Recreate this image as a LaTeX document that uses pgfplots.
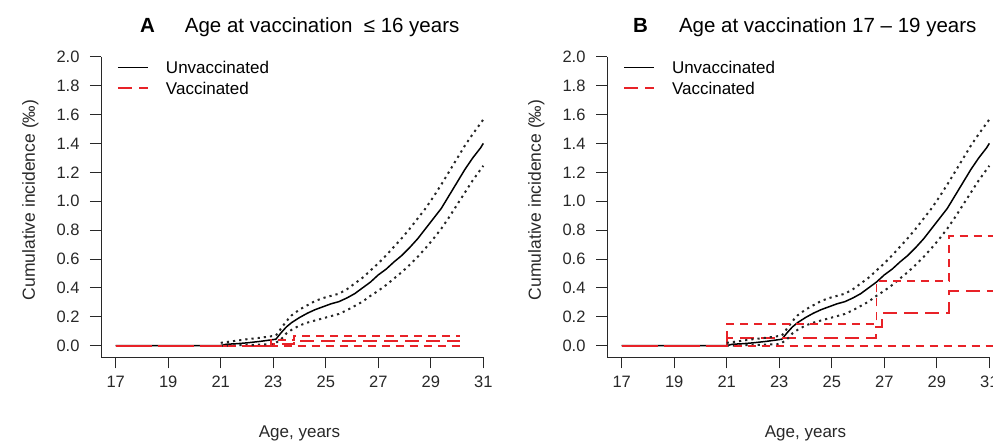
\documentclass[border=0pt]{standalone}
\usepackage{pgfplots}
\pgfplotsset{compat=1.18}
\usepackage{pgfplotstable}
\usepackage{fontspec}
\setmainfont{Liberation Sans}
\definecolor{vred}{RGB}{232,34,40}
\definecolor{axgray}{RGB}{40,40,40}

\pgfplotstableread{
x y
17.0 0.000
21.0 0.000
21.2 0.010
21.6 0.014
22.0 0.020
22.5 0.030
22.9 0.040
23.1 0.045
23.3 0.090
23.5 0.130
23.7 0.160
24.0 0.195
24.3 0.225
24.6 0.250
24.9 0.270
25.2 0.290
25.5 0.305
25.8 0.330
26.1 0.360
26.4 0.400
26.7 0.440
27.0 0.490
27.3 0.530
27.6 0.580
27.9 0.625
28.2 0.680
28.5 0.740
28.8 0.810
29.1 0.880
29.4 0.950
29.7 1.040
30.0 1.130
30.3 1.220
30.6 1.300
30.9 1.370
31.0 1.400
}\unvest

\pgfplotstableread{
x y
21.0 0.020
21.6 0.035
22.0 0.045
22.5 0.055
22.9 0.065
23.1 0.070
23.3 0.120
23.5 0.170
23.7 0.210
24.0 0.250
24.3 0.280
24.6 0.310
24.9 0.330
25.2 0.345
25.5 0.360
25.8 0.390
26.1 0.430
26.4 0.470
26.7 0.520
27.0 0.570
27.3 0.625
27.6 0.685
27.9 0.745
28.2 0.810
28.5 0.880
28.8 0.950
29.1 1.030
29.4 1.115
29.7 1.205
30.0 1.295
30.3 1.385
30.6 1.465
30.9 1.540
31.0 1.565
}\unvup

\pgfplotstableread{
x y
21.0 0.000
22.9 0.010
23.1 0.020
23.3 0.045
23.5 0.085
23.7 0.110
24.0 0.140
24.3 0.160
24.6 0.175
24.9 0.190
25.2 0.205
25.5 0.220
25.8 0.245
26.1 0.275
26.4 0.305
26.7 0.345
27.0 0.380
27.3 0.420
27.6 0.465
27.9 0.510
28.2 0.560
28.5 0.615
28.8 0.675
29.1 0.740
29.4 0.810
29.7 0.890
30.0 0.975
30.3 1.060
30.6 1.145
30.9 1.220
31.0 1.245
}\unvlo

\pgfplotsset{
  myaxis/.style={
    scale only axis, width=397pt, height=312.2pt,
    xmin=16.44, xmax=31.56, ymin=-0.08, ymax=2.08,
    clip=false,
    axis line style={draw=none},
    tick pos=left,
    tick align=outside,
    major tick length=11pt,
    tick style={axgray, line width=1pt},
    xtick={17,19,21,23,25,27,29,31},
    ytick={0,0.2,0.4,0.6,0.8,1.0,1.2,1.4,1.6,1.8,2.0},
    /pgf/number format/assume math mode=true,
    ticklabel style={font=\fontsize{16.5}{19}\selectfont, text=axgray},
    yticklabel style={xshift=-7pt, /pgf/number format/.cd, fixed, fixed zerofill, precision=1},
    xticklabel style={yshift=-4pt},
    xlabel style={at={(axis description cs:0.5,-0.2425)}, anchor=center, font=\fontsize{17}{20}\selectfont, text=axgray},
    ylabel style={at={(axis description cs:-0.178,0.504)}, anchor=center, font=\fontsize{17.5}{20}\selectfont, text=axgray},
    title style={anchor=base west, inner sep=0pt, font=\fontsize{20.5}{24}\selectfont},
    xlabel={Age, years},
    ylabel={Cumulative incidence (‰)},
    legend style={at={(axis description cs:0.0403,0.948)}, anchor=north west,
      draw=none, fill=none, inner sep=0pt, outer sep=0pt, row sep=9pt,
      font=\fontsize{17}{20}\selectfont,
      nodes={inner sep=0pt, text height=12pt, text depth=0pt},
      /tikz/every odd column/.append style={column sep=17pt}},
    legend cell align=left,
    legend image code/.code={\draw[##1] (0pt,0pt) -- (30pt,0pt);},
  },
  unvline/.style={black, line width=1.5pt},
  unvci/.style={black!85, line width=2pt, dash pattern=on 2.2pt off 4pt},
  vest/.style={vred, line width=2pt, dash pattern=on 14pt off 7pt},
  vci/.style={vred, line width=1.8pt, dash pattern=on 8pt off 6pt},
}

\begin{document}
\begin{tikzpicture}
\path[use as bounding box] (0pt,0pt) rectangle (993pt,441pt);

% ---------- Panel A ----------
\begin{axis}[myaxis, at={(101pt,83.7pt)}, anchor=south west,
  title style={at={(axis description cs:0.098,1.022)}},
  title={\textbf{A}\hspace{30pt}Age at vaccination\ \ ≤ 16 years}]
\draw[axgray, line width=1pt] (axis cs:16.44,2.0) -- (axis cs:16.44,-0.08) -- (axis cs:31,-0.08);
\addplot[unvline] table[x=x,y=y] {\unvest};
\addlegendentry{Unvaccinated}
\addplot[vest] coordinates {(17,0) (22.9,0) (22.9,0.015) (23.8,0.015) (23.8,0.032) (30.12,0.032)};
\addlegendentry{Vaccinated}
\addplot[unvci, forget plot] table[x=x,y=y] {\unvup};
\addplot[unvci, forget plot] table[x=x,y=y] {\unvlo};
\addplot[vci, forget plot] coordinates {(17,0) (22.9,0) (22.9,0.040) (23.8,0.040) (23.8,0.067) (30.12,0.067)};
\addplot[vci, forget plot] coordinates {(17,0) (30.12,0)};
\end{axis}

% ---------- Panel B ----------
\begin{axis}[myaxis, at={(607pt,83.7pt)}, anchor=south west,
  title style={at={(axis description cs:0.0655,1.022)}},
  title={\textbf{B}\hspace{31pt}Age at vaccination 17 – 19 years}]
\draw[axgray, line width=1pt] (axis cs:16.44,2.0) -- (axis cs:16.44,-0.08) -- (axis cs:31,-0.08);
\addplot[unvline] table[x=x,y=y] {\unvest};
\addlegendentry{Unvaccinated}
\addplot[vest] coordinates {(17,0) (21.0,0) (21.0,0.051) (26.7,0.051) (26.7,0.13) (26.9,0.13) (26.9,0.224) (29.47,0.224) (29.47,0.38) (31.56,0.38)};
\addlegendentry{Vaccinated}
\addplot[unvci, forget plot] table[x=x,y=y] {\unvup};
\addplot[unvci, forget plot] table[x=x,y=y] {\unvlo};
\addplot[vci, forget plot] coordinates {(17,0) (21.0,0) (21.0,0.148) (26.7,0.148) (26.7,0.448) (29.47,0.448) (29.47,0.761) (31.56,0.761)};
\addplot[vci, forget plot] coordinates {(17,0) (31.56,0)};
\end{axis}
\end{tikzpicture}
\end{document}
